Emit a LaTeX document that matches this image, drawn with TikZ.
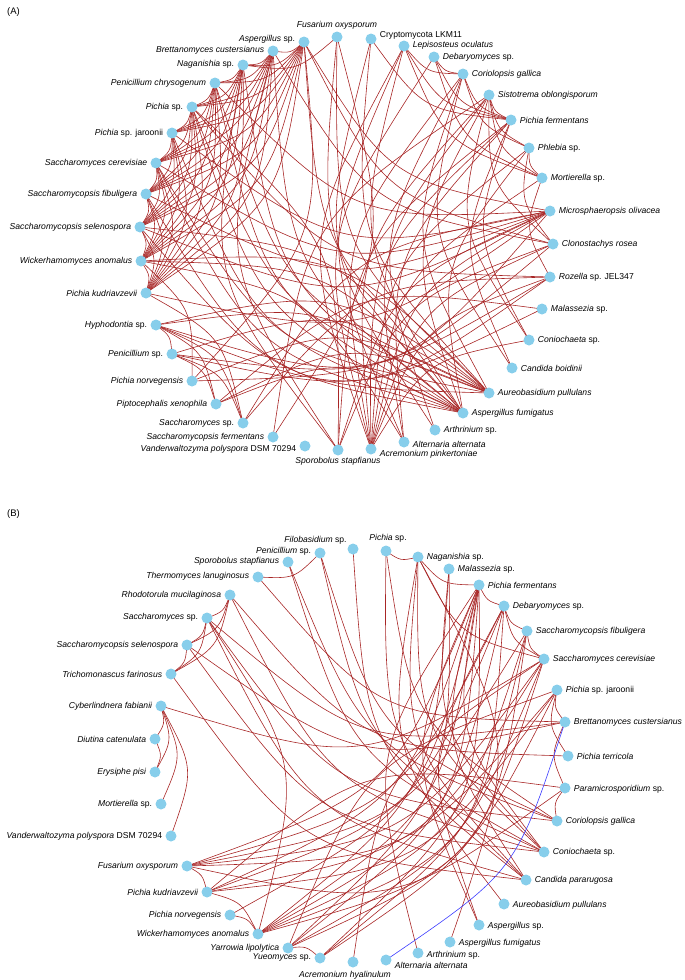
\documentclass[tikz,border=0pt]{standalone}
\usepackage{fontspec}
\setmainfont{Liberation Sans}
\usetikzlibrary{calc}
\definecolor{nodeblue}{RGB}{135,206,235}
\definecolor{edgered}{RGB}{168,38,38}
\definecolor{edgeblue}{RGB}{60,60,255}
\pgfdeclarelayer{bg}
\pgfsetlayers{bg,main}
\newcommand\bendk{(0.22)}
\newcommand\cedge[4][lnk]{%
  \draw[#1] let \p1=(#3.center), \p2=(#4.center), \p3=(#2),
    \n1={veclen(\x2-\x1,\y2-\y1)},
    \n3={((\x2-\x1)/100)*((\y3-\y1)/100)-((\y2-\y1)/100)*((\x3-\x1)/100)},
    \n4={(\n3/\n1)*10000},
    \n2={\bendk*(abs(\n4)>(0.2*\n1+8) ? sign(\n4) : 1)}
  in (#3.center) .. controls ({(\x1+\x2)/2-\n2*(\y2-\y1)},{(\y1+\y2)/2+\n2*(\x2-\x1)}) .. (#4.center);%
}
\begin{document}
\begin{tikzpicture}[x=1pt,y=-1pt,
  dot/.style={circle,fill=nodeblue,minimum size=11pt,inner sep=0pt},
  lbl/.style={font=\fontsize{8.6}{10}\selectfont\itshape,inner sep=0pt,text=black},
  every label/.style={lbl},
  label distance=3pt,
  lnk/.style={draw=edgered,line width=0.6pt},
  bluelnk/.style={draw=edgeblue,line width=0.6pt},
  L/.style={label={[anchor=east]180:#1}},
  R/.style={label={[anchor=west]0:#1}},
  LS/.style 2 args={label={[anchor=east,yshift=#2]180:#1}},
  RS/.style 2 args={label={[anchor=west,yshift=#2]0:#1}},
  panel/.style={font=\fontsize{9.5}{11}\selectfont,anchor=west,inner sep=0pt}]
\useasboundingbox (0,0) rectangle (685,980);
\node[panel] (pA) at (7,12) {(A)};
\node[panel] (pB) at (7,514) {(B)};
\coordinate (ctrA) at (346,244);
\coordinate (ctrB) at (361,755);
% ---------------- Panel A nodes
\node[dot,LS={Aspergillus \textup{sp.}}{3pt}] (a1) at (304,42) {};
\node[dot,LS={Brettanomyces custersianus}{1pt}] (a2) at (273,51) {};
\node[dot,LS={Naganishia \textup{sp.}}{1pt}] (a3) at (243,65) {};
\node[dot,L={Penicillium chrysogenum}] (a4) at (215,83) {};
\node[dot,L={Pichia \textup{sp.}}] (a5) at (192,107) {};
\node[dot,L={Pichia \textup{sp. jaroonii}}] (a6) at (172,133) {};
\node[dot,L={Saccharomyces cerevisiae}] (a7) at (156,163) {};
\node[dot,L={Saccharomycopsis fibuligera}] (a8) at (146,194) {};
\node[dot,L={Saccharomycopsis selenospora}] (a9) at (140,227) {};
\node[dot,L={Wickerhamomyces anomalus}] (a10) at (141,261) {};
\node[dot,L={Pichia kudriavzevii}] (a11) at (146,293) {};
\node[dot,L={Hyphodontia \textup{sp.}}] (a12) at (156,325) {};
\node[dot,L={Penicillium \textup{sp.}}] (a13) at (172,354) {};
\node[dot,L={Pichia norvegensis}] (a14) at (192,381) {};
\node[dot,L={Piptocephalis xenophila}] (a15) at (216,404) {};
\node[dot,L={Saccharomyces \textup{sp.}}] (a16) at (243,423) {};
\node[dot,L={Saccharomycopsis fermentans}] (a17) at (273,437) {};
\node[dot,LS={Vanderwaltozyma polyspora \textup{DSM 70294}}{-3pt}] (a18) at (305,446) {};
\node[dot,label={[anchor=north,yshift=1.5pt]270:Sporobolus stapfianus}] (a19) at (338,450) {};
\node[dot,RS={Acremonium pinkertoniae}{-5pt}] (a20) at (371,449) {};
\node[dot,RS={Alternaria alternata}{-2pt}] (a21) at (404,442) {};
\node[dot,R={Arthrinium \textup{sp.}}] (a22) at (435,430) {};
\node[dot,R={Aspergillus fumigatus}] (a23) at (463,413) {};
\node[dot,R={Aureobasidium pullulans}] (a24) at (489,393) {};
\node[dot,R={Candida boidinii}] (a25) at (512,368) {};
\node[dot,R={Coniochaeta \textup{sp.}}] (a26) at (529,340) {};
\node[dot,R={Malassezia \textup{sp.}}] (a27) at (542,309) {};
\node[dot,R={Rozella \textup{sp. JEL347}}] (a28) at (550,277) {};
\node[dot,R={Clonostachys rosea}] (a29) at (553,244) {};
\node[dot,R={Microsphaeropsis olivacea}] (a30) at (550,211) {};
\node[dot,R={Mortierella \textup{sp.}}] (a31) at (542,178) {};
\node[dot,R={Phlebia \textup{sp.}}] (a32) at (529,148) {};
\node[dot,R={Pichia fermentans}] (a33) at (511,120) {};
\node[dot,R={Sistotrema oblongisporum}] (a34) at (489,95) {};
\node[dot,R={Coriolopsis gallica}] (a35) at (463,74) {};
\node[dot,R={Debaryomyces \textup{sp.}}] (a36) at (434,57) {};
\node[dot,RS={Lepisosteus oculatus}{1pt}] (a37) at (404,46) {};
\node[dot,RS={\textup{Cryptomycota LKM11}}{4pt}] (a38) at (371,39) {};
\node[dot,label={[anchor=south,yshift=-1.5pt]90:Fusarium oxysporum}] (a39) at (337,37) {};
% ---------------- Panel B nodes
\node[dot,label={[anchor=east,xshift=2.5pt,yshift=9pt]180:Filobasidium \textup{sp.}}] (b1) at (353,549) {};
\node[dot,label={[anchor=south,xshift=2pt]90:Pichia \textup{sp.}}] (b2) at (386,551) {};
\node[dot,R={Naganishia \textup{sp.}}] (b3) at (418,557) {};
\node[dot,R={Malassezia \textup{sp.}}] (b4) at (449,569) {};
\node[dot,R={Pichia fermentans}] (b5) at (479,585) {};
\node[dot,R={Debaryomyces \textup{sp.}}] (b6) at (504,606) {};
\node[dot,R={Saccharomycopsis fibuligera}] (b7) at (527,631) {};
\node[dot,R={Saccharomyces cerevisiae}] (b8) at (544,659) {};
\node[dot,R={Pichia \textup{sp. jaroonii}}] (b9) at (557,690) {};
\node[dot,R={Brettanomyces custersianus}] (b10) at (565,722) {};
\node[dot,R={Pichia terricola}] (b11) at (568,756) {};
\node[dot,RS={Paramicrosporidium \textup{sp.}}{-1pt}] (b12) at (565,788) {};
\node[dot,R={Coriolopsis gallica}] (b13) at (557,821) {};
\node[dot,R={Coniochaeta \textup{sp.}}] (b14) at (544,852) {};
\node[dot,R={Candida pararugosa}] (b15) at (526,880) {};
\node[dot,RS={Aureobasidium pullulans}{-1pt}] (b16) at (504,904) {};
\node[dot,RS={Aspergillus \textup{sp.}}{-1pt}] (b17) at (479,925) {};
\node[dot,RS={Aspergillus fumigatus}{-1pt}] (b18) at (450,942) {};
\node[dot,RS={Arthrinium \textup{sp.}}{-2pt}] (b19) at (418,953) {};
\node[dot,RS={Alternaria alternata}{-5pt}] (b20) at (386,960) {};
\node[dot,label={[anchor=north,xshift=-8pt]270:Acremonium hyalinulum}] (b21) at (353,962) {};
\node[dot,LS={Yueomyces \textup{sp.}}{1pt}] (b22) at (320,958) {};
\node[dot,L={Yarrowia lipolytica}] (b23) at (288,948) {};
\node[dot,L={Wickerhamomyces anomalus}] (b24) at (258,934) {};
\node[dot,L={Pichia norvegensis}] (b25) at (230,915) {};
\node[dot,L={Pichia kudriavzevii}] (b26) at (207,892) {};
\node[dot,L={Fusarium oxysporum}] (b27) at (187,866) {};
\node[dot,L={Vanderwaltozyma polyspora \textup{DSM 70294}}] (b28) at (171,836) {};
\node[dot,L={Mortierella \textup{sp.}}] (b29) at (161,804) {};
\node[dot,L={Erysiphe pisi}] (b30) at (155,772) {};
\node[dot,L={Diutina catenulata}] (b31) at (155,739) {};
\node[dot,L={Cyberlindnera fabianii}] (b32) at (161,706) {};
\node[dot,L={Trichomonascus farinosus}] (b33) at (171,674) {};
\node[dot,L={Saccharomycopsis selenospora}] (b34) at (187,645) {};
\node[dot,LS={Saccharomyces \textup{sp.}}{1pt}] (b35) at (207,618) {};
\node[dot,L={Rhodotorula mucilaginosa}] (b36) at (230,595) {};
\node[dot,LS={Thermomyces lanuginosus}{1pt}] (b37) at (258,577) {};
\node[dot,LS={Sporobolus stapfianus}{1pt}] (b38) at (288,562) {};
\node[dot,LS={Penicillium \textup{sp.}}{2pt}] (b39) at (320,553) {};
% ---------------- edges
\begin{pgfonlayer}{bg}
\foreach \i in {1,...,10}{
  \pgfmathtruncatemacro\s{\i+1}
  \foreach \j in {\s,...,11}{\cedge{ctrA}{a\i}{a\j}}
}
\foreach \u/\v in {a23/a2,a23/a3,a23/a4,a23/a5,a23/a6,a23/a7,a23/a8,a23/a9,a23/a10,a23/a12,a23/a34,a23/a37,a23/a39,a23/a32,
  a24/a1,a24/a4,a24/a5,a24/a7,a24/a9,a24/a10,a24/a12,a24/a13,a24/a14,a24/a15,a24/a35,a24/a38,a24/a39,
  a20/a28,a20/a29,a20/a30,a20/a31,a20/a32,a20/a33,a20/a34,a20/a35,a20/a36,a20/a37,a20/a26,
  a21/a33,a21/a34,a21/a37,a21/a10,a22/a35,a22/a38,
  a30/a4,a30/a6,a30/a7,a30/a8,a30/a9,a30/a11,a30/a14,a30/a16,a30/a19,a30/a1,
  a34/a33,a34/a32,a34/a26,a34/a31,a34/a29,
  a33/a35,a33/a37,a33/a38,a33/a36,a33/a26,a33/a25,
  a32/a35,a32/a31,a32/a29,a31/a37,a31/a36,a31/a28,
  a29/a1,a29/a2,a29/a13,a29/a19,a28/a12,a28/a13,a28/a5,
  a27/a12,a27/a15,a25/a35,a39/a17,a39/a3,
  a19/a5,a19/a3,a19/a2,a19/a33,a17/a34,
  a16/a28,a16/a12,a16/a11,a15/a12,a15/a13,a15/a23,a13/a12,a13/a16,a14/a10,a14/a1,
  a37/a35,a36/a35}{\cedge{ctrA}{\u}{\v}}
\foreach \u/\v in {b37/b39,b37/b10,b38/b13,b39/b14,b1/b15,b2/b3,b2/b13,b3/b5,b3/b8,b3/b16,b3/b18,b3/b14,b3/b15,
  b4/b24,b4/b14,b4/b23,b5/b24,b5/b26,b5/b27,b5/b23,b5/b22,b5/b25,b5/b6,b5/b15,b5/b14,b5/b17,b5/b19,
  b6/b7,b6/b27,b6/b26,b6/b24,b6/b8,b6/b17,b6/b22,b7/b8,b7/b27,b7/b24,b7/b23,b7/b22,
  b8/b32,b8/b21,b8/b26,b8/b24,b8/b27,b8/b23,b9/b27,b9/b26,b9/b24,b9/b23,b9/b10,b10/b35,b9/b11,b11/b36,
  b12/b27,b12/b26,b12/b13,b12/b10,b13/b35,b13/b39,b14/b36,b14/b34,b14/b38,b15/b33,b15/b35,b15/b2,
  b22/b23,b24/b35,b24/b25,b24/b26,b26/b27,b32/b31,b32/b30,b32/b29,b32/b28,b31/b30,
  b36/b35,b36/b34,b36/b33,b35/b34,b35/b33,b34/b33,b10/b34}{\cedge{ctrB}{\u}{\v}}
{\renewcommand\bendk{(-0.17)}\cedge[bluelnk]{ctrB}{b20}{b10}}
\end{pgfonlayer}
\end{tikzpicture}
\end{document}
